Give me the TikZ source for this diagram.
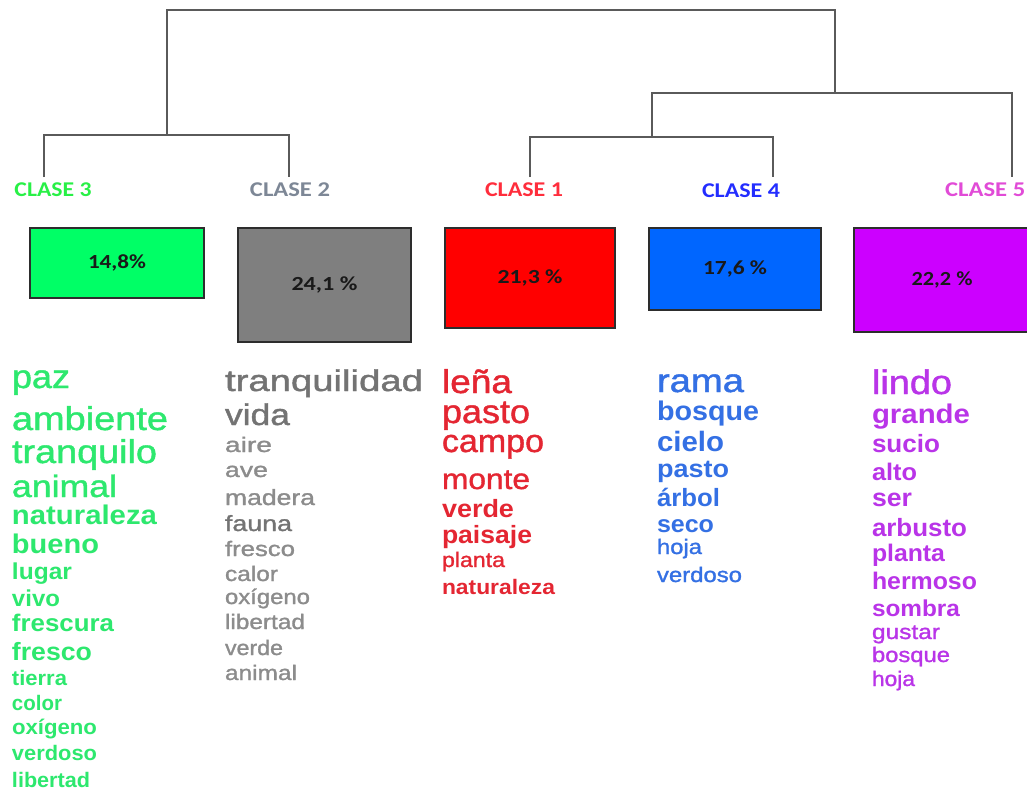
\documentclass[tikz,border=0pt]{standalone}
\usepackage{fontspec}
\setmainfont{Liberation Sans}
\newfontfamily\calibri{Carlito}
\newfontfamily\medfont[FakeBold=1.2]{Liberation Sans}
\usepackage{graphicx}
\definecolor{lineg}{RGB}{90,90,90}
\definecolor{cgreen}{RGB}{45,232,110}
\definecolor{cgray}{RGB}{140,140,140}
\definecolor{cgrayd}{RGB}{115,115,115}
\definecolor{cred}{RGB}{228,38,50}
\definecolor{cblue}{RGB}{52,112,228}
\definecolor{cpurple}{RGB}{185,52,232}
\definecolor{l3c}{RGB}{40,240,70}
\definecolor{l2c}{RGB}{125,135,150}
\definecolor{l1c}{RGB}{255,45,60}
\definecolor{l4c}{RGB}{35,45,255}
\definecolor{l5c}{RGB}{225,75,215}
\definecolor{bgreen}{RGB}{0,255,102}
\definecolor{bgray}{RGB}{127,127,127}
\definecolor{bred}{RGB}{255,0,0}
\definecolor{bblue}{RGB}{0,102,255}
\definecolor{bpurple}{RGB}{204,0,255}
\tikzset{
  dendro/.style={draw=lineg, line width=2.8pt},
  word/.style={anchor=base west, inner sep=0pt, outer sep=0pt, font=\medfont},
  clabel/.style={inner sep=0pt, font=\calibri\bfseries\fontsize{21pt}{21pt}\selectfont},
  pbox/.style={draw={rgb,255:red,45;green,45;blue,45}, line width=1.3pt, inner sep=0pt,
    font=\calibri\bfseries\fontsize{20pt}{20pt}\selectfont, text={rgb,255:red,25;green,25;blue,25}}
}
\newcommand\cw[7][]{\node[word,#1] (#2) at (#3,#4) {\fontsize{#5pt}{#5pt}\selectfont\resizebox{#6pt}{\height}{#7}};}
\begin{document}
\begin{tikzpicture}[x=1pt,y=-1pt]
\useasboundingbox (0,0) rectangle (1027,795);
\clip (0,0) rectangle (1027,795);
\fill[white] (0,0) rectangle (1027,795);
% dendrogram
\coordinate (l3) at (44,177);
\coordinate (l2) at (289,177);
\coordinate (l1) at (530,177);
\coordinate (l4) at (773,177);
\coordinate (l5) at (1012,177);
\coordinate (j32) at (167,135);
\coordinate (j14) at (652,137);
\coordinate (j145) at (835,93);
\coordinate (root) at (500,10);
\draw[dendro] (l3) |- (j32) -| (l2);
\draw[dendro] (l1) |- (j14) -| (l4);
\draw[dendro] (j14) |- (j145) -| (l5);
\draw[dendro] (j32) |- (root) -| (j145);
% class labels
\node[clabel, text=l3c] (c3) at (53,190) {\resizebox{77pt}{\height}{CLASE 3}};
\node[clabel, text=l2c] (c2) at (290,190) {\resizebox{80pt}{\height}{CLASE 2}};
\node[clabel, text=l1c] (c1) at (524,190) {\resizebox{78pt}{\height}{CLASE 1}};
\node[clabel, text=l4c] (c4) at (741,191) {\resizebox{78pt}{\height}{CLASE 4}};
\node[clabel, text=l5c, anchor=west] (c5) at (945,190) {\resizebox{80pt}{\height}{CLASE 5}};
% boxes
\node[pbox, fill=bgreen, minimum width=174pt, minimum height=70pt] (b3) at (117,263) {\resizebox{58pt}{\height}{14,8\%}};
\node[pbox, fill=bgray, minimum width=173pt, minimum height=114pt] (b2) at (324.5,285) {\resizebox{66pt}{\height}{24,1 \%}};
\node[pbox, fill=bred, minimum width=170pt, minimum height=100pt] (b1) at (530,278) {\resizebox{65pt}{\height}{21,3 \%}};
\node[pbox, fill=bblue, minimum width=172pt, minimum height=82pt] (b4) at (735,269) {\resizebox{64pt}{\height}{17,6 \%}};
\node[pbox, fill=bpurple, minimum width=176pt, minimum height=104pt] (b5) at (942,280) {\resizebox{61pt}{\height}{22,2 \%}};
% green words
\begin{scope}[every node/.append style={text=cgreen}]
\cw{g1}{12}{388}{33}{58}{paz}
\cw{g2}{12}{430}{33}{156}{ambiente}
\cw{g3}{12}{463}{33}{145}{tranquilo}
\cw{g4}{12}{497}{31}{105}{animal}
\cw[font=\bfseries]{g5}{12}{524}{27}{145}{naturaleza}
\cw[font=\bfseries]{g6}{12}{553}{27}{87}{bueno}
\cw[font=\bfseries]{g7}{12}{579}{23}{60}{lugar}
\cw[font=\bfseries]{g8}{12}{606}{23}{48}{vivo}
\cw[font=\bfseries]{g9}{12}{631}{24}{102}{frescura}
\cw[font=\bfseries]{g10}{12}{660}{25}{80}{fresco}
\cw[font=\bfseries]{g11}{12}{685}{21}{55}{tierra}
\cw[font=\bfseries]{g12}{12}{710}{21}{50}{color}
\cw[font=\bfseries]{g13}{12}{734}{21}{85}{oxígeno}
\cw[font=\bfseries]{g14}{12}{760}{21}{85}{verdoso}
\cw[font=\bfseries]{g15}{12}{787}{21}{78}{libertad}
\end{scope}
% gray words
\begin{scope}[every node/.append style={text=cgray}]
\cw[text=cgrayd]{k1}{225}{391}{30}{198}{tranquilidad}
\cw[text=cgrayd]{k2}{225}{425}{30}{65}{vida}
\cw{k3}{225}{452}{21}{47}{aire}
\cw{k4}{225}{477}{21}{43}{ave}
\cw{k5}{225}{505}{22}{90}{madera}
\cw[text=cgrayd]{k6}{225}{531}{22}{67}{fauna}
\cw{k7}{225}{556}{21}{70}{fresco}
\cw{k8}{225}{581}{21}{53}{calor}
\cw{k9}{225}{604}{21}{85}{oxígeno}
\cw{k10}{225}{629}{21}{80}{libertad}
\cw{k11}{225}{655}{21}{58}{verde}
\cw{k12}{225}{680}{21}{72}{animal}
\end{scope}
% red words
\begin{scope}[every node/.append style={text=cred}]
\cw{r1}{442}{393}{33}{70}{leña}
\cw{r2}{442}{423}{33}{88}{pasto}
\cw{r3}{442}{452}{32}{102}{campo}
\cw{r4}{442}{489}{29}{88}{monte}
\cw[font=\bfseries]{r5}{442}{517}{25}{72}{verde}
\cw[font=\bfseries]{r6}{442}{543}{25}{90}{paisaje}
\cw{r7}{442}{567}{21}{63}{planta}
\cw[font=\bfseries]{r8}{442}{594}{21}{113}{naturaleza}
\end{scope}
% blue words
\begin{scope}[every node/.append style={text=cblue}]
\cw{u1}{657}{392}{33}{87}{rama}
\cw[font=\bfseries]{u2}{657}{420}{27}{102}{bosque}
\cw[font=\bfseries]{u3}{657}{451}{28}{67}{cielo}
\cw[font=\bfseries]{u4}{657}{477}{25}{72}{pasto}
\cw[font=\bfseries]{u5}{657}{506}{25}{63}{árbol}
\cw[font=\bfseries]{u6}{657}{532}{24}{57}{seco}
\cw{u7}{657}{554}{21}{45}{hoja}
\cw{u8}{657}{582}{21}{85}{verdoso}
\end{scope}
% purple words
\begin{scope}[every node/.append style={text=cpurple}]
\cw{p1}{872}{394}{34}{80}{lindo}
\cw[font=\bfseries]{p2}{872}{423}{27}{98}{grande}
\cw[font=\bfseries]{p3}{872}{452}{25}{68}{sucio}
\cw[font=\bfseries]{p4}{872}{480}{24}{45}{alto}
\cw[font=\bfseries]{p5}{872}{506}{25}{40}{ser}
\cw[font=\bfseries]{p6}{872}{536}{25}{95}{arbusto}
\cw[font=\bfseries]{p7}{872}{561}{24}{73}{planta}
\cw[font=\bfseries]{p8}{872}{589}{24}{105}{hermoso}
\cw[font=\bfseries]{p9}{872}{616}{23}{88}{sombra}
\cw{p10}{872}{639}{21}{68}{gustar}
\cw{p11}{872}{662}{21}{78}{bosque}
\cw{p12}{872}{686}{21}{43}{hoja}
\end{scope}
\end{tikzpicture}
\end{document}
